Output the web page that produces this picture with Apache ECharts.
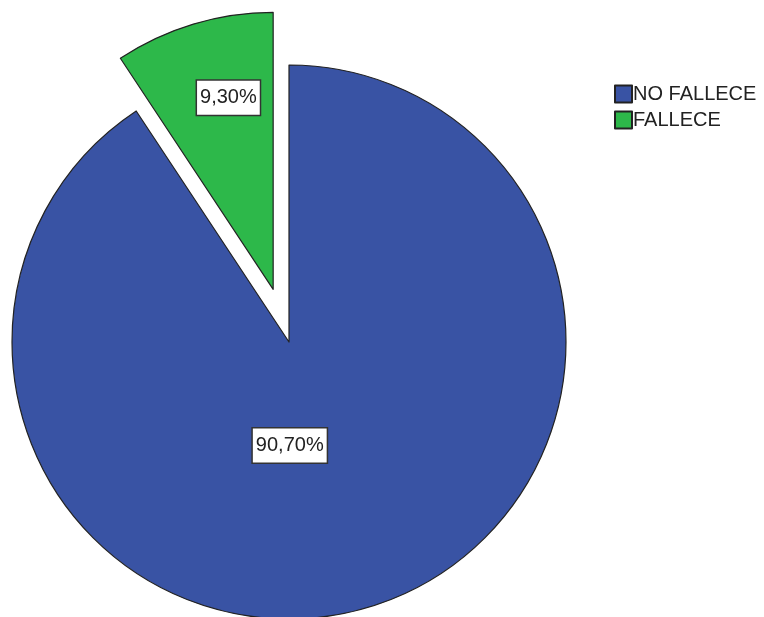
<!DOCTYPE html>
<html>
<head>
<meta charset="utf-8">
<script src="https://cdn.jsdelivr.net/npm/echarts@6/dist/echarts.min.js"></script>
<style>
  html, body { margin: 0; padding: 0; background: #fff; }
  #pie { width: 764px; height: 617px; }
</style>
</head>
<body>
<div id="pie"></div>
<script>
// categorias y porcentajes
var categorias = ['NO FALLECE', 'FALLECE'];
var porcentajes = [90.70, 9.30];
var colores = ['#3953A4', '#2DB84A'];
// desplazamiento de las etiquetas (estilo SPSS)
var offsets = [[-40, -32], [-4, -56]];

var myPie = echarts.init(document.getElementById('pie'));

var datos = [];
for (var i = 0; i < categorias.length; i++) {
  datos.push({
    name: categorias[i],
    value: porcentajes[i],
    selected: i === 1,
    itemStyle: { color: colores[i] }
  });
}

var option = {
  animation: false,
  legend: {
    orient: 'vertical',
    left: 609,
    top: 79,
    icon: 'rect',
    itemWidth: 17,
    itemHeight: 17,
    itemGap: 6,
    textStyle: {
      fontFamily: 'Liberation Sans, Arial, sans-serif',
      fontSize: 20,
      color: '#222',
      padding: [0, 0, 0, -4]
    },
    data: categorias
  },
  series: [
    {
      type: 'pie',
      center: [289, 342],
      radius: 277,
      startAngle: 90,
      clockwise: true,
      selectedMode: 'single',
      selectedOffset: 55,
      emphasis: { disabled: true },
      itemStyle: {
        borderColor: '#222',
        borderWidth: 1.2
      },
      label: {
        show: true,
        position: 'inside',
        formatter: function (p) {
          return p.value.toFixed(2).replace('.', ',') + '%';
        },
        fontFamily: 'Liberation Sans, Arial, sans-serif',
        fontSize: 20,
        color: '#222',
        backgroundColor: '#fff',
        borderColor: '#333',
        borderWidth: 1.5,
        padding: [8, 3, 6, 3]
      },
      labelLayout: function (p) {
        return { dx: offsets[p.dataIndex][0], dy: offsets[p.dataIndex][1] };
      },
      labelLine: { show: false },
      data: datos
    }
  ]
};
myPie.setOption(option);
</script>
</body>
</html>
